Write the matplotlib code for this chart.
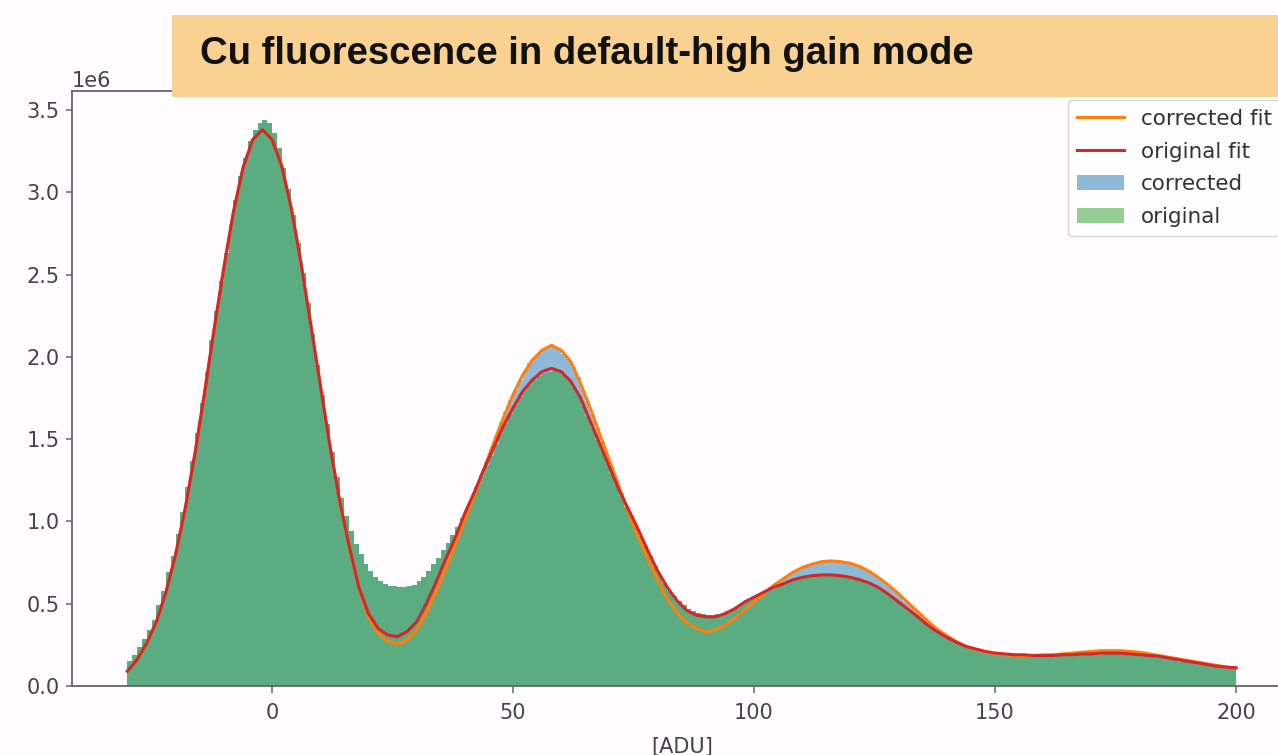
import numpy as np
import matplotlib
matplotlib.use("Agg")
import matplotlib.pyplot as plt
from matplotlib.patches import Rectangle, Patch
from matplotlib.lines import Line2D

# ---------------- data (values in units of 1e6 counts) ----------------
SCALE = 1e6
bin_edges = np.arange(-30, 201, 1)      # ADU, 1-ADU bins
fit_x = np.arange(-30, 201, 2)          # ADU, fit sampling grid

original_counts = [
    0.15, 0.19, 0.235, 0.285, 0.34, 0.40, 0.49, 0.58, 0.69, 0.79,
    0.925, 1.06, 1.21, 1.37, 1.54, 1.72, 1.91, 2.10, 2.28, 2.46,
    2.63, 2.80, 2.955, 3.10, 3.21, 3.31, 3.38, 3.42, 3.44, 3.42,
    3.36, 3.27, 3.15, 3.02, 2.86, 2.69, 2.51, 2.33, 2.14, 1.95,
    1.77, 1.59, 1.42, 1.27, 1.14, 1.03, 0.94, 0.86, 0.80, 0.74,
    0.70, 0.665, 0.64, 0.62, 0.61, 0.605, 0.60, 0.60, 0.605, 0.615,
    0.635, 0.665, 0.70, 0.74, 0.78, 0.825, 0.87, 0.915, 0.965, 1.02,
    1.08, 1.14, 1.205, 1.27, 1.335, 1.40, 1.465, 1.53, 1.59, 1.65,
    1.705, 1.755, 1.795, 1.83, 1.86, 1.885, 1.90, 1.91, 1.915, 1.905,
    1.89, 1.86, 1.815, 1.765, 1.70, 1.635, 1.565, 1.495, 1.425, 1.355,
    1.285, 1.22, 1.155, 1.09, 1.03, 0.97, 0.91, 0.85, 0.79, 0.73,
    0.675, 0.625, 0.58, 0.545, 0.515, 0.49, 0.47, 0.455, 0.445, 0.435,
    0.43, 0.43, 0.435, 0.44, 0.455, 0.465, 0.48, 0.50, 0.515, 0.53,
    0.545, 0.56, 0.575, 0.59, 0.60, 0.615, 0.625, 0.635, 0.645, 0.65,
    0.66, 0.665, 0.67, 0.67, 0.675, 0.675, 0.67, 0.67, 0.665, 0.66,
    0.655, 0.645, 0.635, 0.625, 0.615, 0.60, 0.58, 0.56, 0.54, 0.52,
    0.50, 0.475, 0.45, 0.43, 0.405, 0.38, 0.36, 0.34, 0.32, 0.30,
    0.285, 0.27, 0.255, 0.245, 0.235, 0.225, 0.22, 0.215, 0.21, 0.20,
    0.195, 0.195, 0.19, 0.19, 0.188, 0.185, 0.185, 0.185, 0.183, 0.18,
    0.18, 0.18, 0.183, 0.185, 0.185, 0.187, 0.19, 0.19, 0.19, 0.192,
    0.195, 0.195, 0.195, 0.195, 0.195, 0.195, 0.193, 0.19, 0.188, 0.185,
    0.182, 0.18, 0.177, 0.173, 0.168, 0.163, 0.158, 0.153, 0.148, 0.145,
    0.14, 0.135, 0.13, 0.127, 0.122, 0.118, 0.113, 0.11, 0.107, 0.103,
]

corrected_counts = [
    0.15, 0.19, 0.235, 0.285, 0.34, 0.40, 0.49, 0.58, 0.69, 0.79,
    0.925, 1.06, 1.21, 1.37, 1.54, 1.72, 1.91, 2.10, 2.28, 2.46,
    2.63, 2.80, 2.955, 3.10, 3.21, 3.31, 3.38, 3.42, 3.44, 3.42,
    3.36, 3.27, 3.15, 3.02, 2.86, 2.69, 2.51, 2.33, 2.14, 1.95,
    1.77, 1.59, 1.42, 1.27, 1.14, 1.03, 0.94, 0.86, 0.80, 0.74,
    0.70, 0.665, 0.64, 0.62, 0.61, 0.605, 0.60, 0.60, 0.605, 0.615,
    0.635, 0.665, 0.70, 0.74, 0.78, 0.825, 0.87, 0.915, 0.965, 1.02,
    1.08, 1.14, 1.21, 1.28, 1.36, 1.44, 1.52, 1.595, 1.665, 1.735,
    1.80, 1.86, 1.915, 1.96, 1.995, 2.025, 2.05, 2.065, 2.065, 2.05,
    2.02, 1.985, 1.94, 1.875, 1.80, 1.73, 1.65, 1.57, 1.49, 1.41,
    1.33, 1.25, 1.17, 1.09, 1.03, 0.97, 0.91, 0.85, 0.79, 0.73,
    0.675, 0.625, 0.58, 0.545, 0.515, 0.49, 0.47, 0.455, 0.445, 0.435,
    0.43, 0.43, 0.435, 0.44, 0.455, 0.465, 0.48, 0.50, 0.515, 0.53,
    0.545, 0.56, 0.575, 0.60, 0.62, 0.64, 0.66, 0.68, 0.70, 0.715,
    0.725, 0.735, 0.745, 0.75, 0.755, 0.76, 0.76, 0.755, 0.752, 0.748,
    0.74, 0.73, 0.718, 0.703, 0.685, 0.665, 0.644, 0.62, 0.598, 0.573,
    0.546, 0.519, 0.491, 0.464, 0.436, 0.409, 0.381, 0.357, 0.335, 0.315,
    0.296, 0.28, 0.263, 0.248, 0.235, 0.225, 0.22, 0.215, 0.21, 0.20,
    0.195, 0.195, 0.19, 0.19, 0.188, 0.185, 0.185, 0.185, 0.183, 0.18,
    0.18, 0.182, 0.185, 0.188, 0.19, 0.193, 0.197, 0.20, 0.203, 0.206,
    0.209, 0.211, 0.212, 0.213, 0.213, 0.212, 0.21, 0.207, 0.203, 0.199,
    0.195, 0.19, 0.185, 0.18, 0.174, 0.168, 0.162, 0.156, 0.151, 0.147,
    0.142, 0.137, 0.132, 0.128, 0.124, 0.119, 0.115, 0.111, 0.108, 0.104,
]

original_fit = [
    0.09, 0.16, 0.26, 0.39, 0.57, 0.80, 1.08, 1.41, 1.78, 2.17,
    2.54, 2.88, 3.15, 3.32, 3.38, 3.32, 3.16, 2.90, 2.57, 2.20,
    1.83, 1.46, 1.13, 0.85, 0.60, 0.44, 0.35, 0.31, 0.30, 0.33,
    0.39, 0.50, 0.63, 0.77, 0.90, 1.05, 1.18, 1.32, 1.45, 1.58,
    1.69, 1.79, 1.86, 1.91, 1.93, 1.91, 1.85, 1.75, 1.61, 1.47,
    1.33, 1.19, 1.07, 0.95, 0.82, 0.70, 0.60, 0.52, 0.46, 0.43,
    0.42, 0.42, 0.44, 0.47, 0.51, 0.54, 0.57, 0.60, 0.62, 0.645,
    0.66, 0.67, 0.675, 0.675, 0.67, 0.66, 0.645, 0.625, 0.595, 0.555,
    0.51, 0.465, 0.42, 0.37, 0.33, 0.295, 0.265, 0.24, 0.225, 0.21,
    0.20, 0.195, 0.19, 0.19, 0.185, 0.185, 0.185, 0.19, 0.19, 0.195,
    0.195, 0.20, 0.20, 0.20, 0.195, 0.19, 0.185, 0.18, 0.17, 0.16,
    0.15, 0.14, 0.13, 0.12, 0.115, 0.11,
]

corrected_fit = [
    0.09, 0.16, 0.26, 0.39, 0.57, 0.80, 1.08, 1.41, 1.78, 2.17,
    2.54, 2.88, 3.15, 3.32, 3.38, 3.32, 3.16, 2.90, 2.57, 2.20,
    1.83, 1.46, 1.13, 0.84, 0.59, 0.42, 0.32, 0.27, 0.255, 0.28,
    0.34, 0.44, 0.57, 0.71, 0.86, 1.01, 1.16, 1.32, 1.48, 1.63,
    1.77, 1.89, 1.98, 2.04, 2.07, 2.04, 1.97, 1.84, 1.69, 1.53,
    1.37, 1.21, 1.05, 0.90, 0.77, 0.64, 0.53, 0.445, 0.385, 0.35,
    0.33, 0.34, 0.37, 0.41, 0.46, 0.51, 0.56, 0.61, 0.65, 0.69,
    0.72, 0.74, 0.755, 0.76, 0.755, 0.745, 0.725, 0.695, 0.655, 0.61,
    0.56, 0.505, 0.45, 0.395, 0.345, 0.305, 0.27, 0.24, 0.22, 0.205,
    0.195, 0.19, 0.185, 0.185, 0.185, 0.19, 0.19, 0.195, 0.20, 0.205,
    0.21, 0.215, 0.215, 0.215, 0.21, 0.205, 0.195, 0.185, 0.175, 0.165,
    0.155, 0.145, 0.135, 0.125, 0.115, 0.11,
]

title_text = "Cu fluorescence in default-high gain mode"
legend_labels = ["corrected fit", "original fit", "corrected", "original"]

# ---------------- figure ----------------
W, H = 1278, 755
fig = plt.figure(figsize=(W / 100, H / 100), dpi=100)
fig.patch.set_facecolor("#fefcfe")

left_px, bottom_px, top_px = 72, 686, 91
px_per_adu = 4.82
x0, x1 = -41.5, 211.5
ax_w_px = (x1 - x0) * px_per_adu
ax = fig.add_axes([left_px / W, 1 - bottom_px / H, ax_w_px / W, (bottom_px - top_px) / H])
ax.set_facecolor("#fefcfe")

c_blue, c_green = "tab:blue", "tab:green"
c_orange, c_red = "tab:orange", "tab:red"

ax.stairs(np.array(corrected_counts) * SCALE, bin_edges, fill=True,
          color=c_blue, alpha=0.5, linewidth=0)
ax.stairs(np.array(original_counts) * SCALE, bin_edges, fill=True,
          color=c_green, alpha=0.5, linewidth=0)
ax.plot(fit_x, np.array(corrected_fit) * SCALE, color=c_orange, lw=2.2)
ax.plot(fit_x, np.array(original_fit) * SCALE, color=c_red, lw=2.2)

ax.set_xlim(x0, x1)
ax.set_ylim(0, 3.615e6)
ax.set_xticks([0, 50, 100, 150, 200])
ax.set_yticks(np.arange(0, 3.51e6, 0.5e6))
ax.tick_params(labelsize=15, labelcolor="#444444", color="#666666", width=1.1)
ax.tick_params(axis="x", length=5, pad=7.5)
ax.tick_params(axis="y", length=4, pad=5)
ax.yaxis.get_offset_text().set_fontsize(15)
ax.yaxis.get_offset_text().set_color("#444444")
for s in ax.spines.values():
    s.set_color("#666666")
    s.set_linewidth(1.3)
ax.set_xlabel("[ADU]", fontsize=15, color="#444444", labelpad=9.5)

handles = [
    Line2D([], [], color=c_orange, lw=2.2),
    Line2D([], [], color=c_red, lw=2.2),
    Patch(facecolor=c_blue, alpha=0.5, edgecolor="none"),
    Patch(facecolor=c_green, alpha=0.5, edgecolor="none"),
]
leg = ax.legend(handles, legend_labels, loc="upper left",
                bbox_to_anchor=(1068 / W, 1 - 100 / H), bbox_transform=fig.transFigure,
                borderaxespad=0, fontsize=15.5, handlelength=2.2, labelspacing=0.6,
                frameon=True)
for t in leg.get_texts():
    t.set_color("#333333")

# title banner
banner = Rectangle((172 / W, 1 - 97 / H), (W - 172) / W + 0.01, 82 / H,
                   transform=fig.transFigure, facecolor="#F9D191", edgecolor="none",
                   zorder=5)
fig.patches.append(banner)
fig.text(200 / W, 1 - 54 / H, title_text, fontsize=27.5, fontweight="bold",
         family=["Liberation Sans", "DejaVu Sans"], color="#111111",
         va="center", ha="left", zorder=6)

fig.savefig("out.png", dpi=100, facecolor=fig.get_facecolor())
